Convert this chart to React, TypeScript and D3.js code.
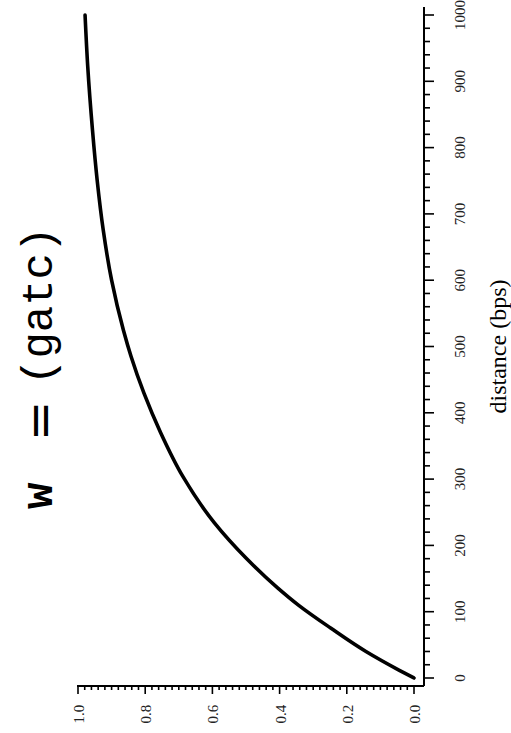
import React, { useRef, useEffect } from "react";
import { select, scaleLinear, line, curveMonotoneY, range } from "d3";

// curve: distance (bps) -> weight
const distance = [0, 12, 40, 75, 110, 136, 181, 234, 304, 370, 430, 485, 525, 600, 676, 751, 827, 922, 1000];
const weight = [0, 0.045, 0.143, 0.247, 0.344, 0.406, 0.5, 0.594, 0.688, 0.754, 0.804, 0.842, 0.865, 0.9, 0.925, 0.943, 0.957, 0.971, 0.979];

const distTicks = [0, 100, 200, 300, 400, 500, 600, 700, 800, 900, 1000];
const distLabels = ["0", "100", "200", "300", "400", "500", "600", "700", "800", "900", "1000"];
const weightTicks = [0, 0.2, 0.4, 0.6, 0.8, 1.0];
const weightLabels = ["0.0", "0.2", "0.4", "0.6", "0.8", "1.0"];
const distMinor = range(0, 1001, 20);
const weightMinor = range(0, 51).map((i) => i / 50);

const W = 511;
const H = 733;
const SERIF = "'Liberation Serif', 'DejaVu Serif', 'Times New Roman', serif";
const MONO = "'Liberation Mono', 'DejaVu Sans Mono', monospace";

function App() {
  const svgRef = useRef<SVGSVGElement>(null);

  useEffect(() => {
    const svg = select(svgRef.current);
    svg.selectAll("*").remove();

    // page is rotated: distance runs bottom->top, weight runs right->left
    const dScale = scaleLinear().domain([0, 1000]).range([678, 15]);
    const wScale = scaleLinear().domain([0, 1]).range([414, 78]);

    const axisX = 424; // right axis line
    const axisY = 686; // bottom axis line

    // frame lines
    svg.append("line")
      .attr("x1", axisX).attr("x2", axisX)
      .attr("y1", axisY).attr("y2", 7)
      .attr("stroke", "black").attr("stroke-width", 2);
    svg.append("line")
      .attr("x1", axisX).attr("x2", wScale(1) - 1)
      .attr("y1", axisY).attr("y2", axisY)
      .attr("stroke", "black").attr("stroke-width", 2);

    // right axis ticks
    svg.append("g")
      .selectAll("line")
      .data(distMinor)
      .join("line")
      .attr("x1", axisX)
      .attr("x2", (d) => (d % 100 === 0 ? axisX + 10 : axisX + 6))
      .attr("y1", (d) => dScale(d))
      .attr("y2", (d) => dScale(d))
      .attr("stroke", "black")
      .attr("stroke-width", 1.6);

    svg.append("g")
      .selectAll("text")
      .data(distTicks)
      .join("text")
      .attr("transform", (d) => `translate(465,${dScale(d)}) rotate(-90)`)
      .attr("text-anchor", "middle")
      .style("font-family", SERIF)
      .style("font-size", "15px")
      .attr("fill", "#222")
      .text((d, i) => distLabels[i]);

    // bottom axis ticks
    svg.append("g")
      .selectAll("line")
      .data(weightMinor)
      .join("line")
      .attr("x1", (d) => wScale(d))
      .attr("x2", (d) => wScale(d))
      .attr("y1", axisY)
      .attr("y2", (d, i) => (i % 10 === 0 ? axisY + 8 : axisY + 4))
      .attr("stroke", "black")
      .attr("stroke-width", 1.6);

    svg.append("g")
      .selectAll("text")
      .data(weightTicks)
      .join("text")
      .attr("transform", (d) => `translate(${wScale(d) + 6},714) rotate(-90)`)
      .attr("text-anchor", "middle")
      .style("font-family", SERIF)
      .style("font-size", "15px")
      .attr("fill", "#222")
      .text((d, i) => weightLabels[i]);

    // axis title
    svg.append("text")
      .attr("transform", `translate(506,${(dScale(0) + dScale(1000)) / 2}) rotate(-90)`)
      .attr("text-anchor", "middle")
      .style("font-family", SERIF)
      .style("font-size", "24px")
      .text("distance (bps)");

    // title w = (gatc)
    svg.append("text")
      .attr("transform", "translate(52,509) rotate(-90)")
      .style("font-family", MONO)
      .style("font-size", "44px")
      .style("font-weight", "bold")
      .text("w");
    svg.append("text")
      .attr("transform", "translate(56,421) rotate(-90)")
      .attr("text-anchor", "middle")
      .style("font-family", "'DejaVu Sans', sans-serif")
      .style("font-size", "48px")
      .text("=");
    svg.append("text")
      .attr("transform", "translate(52,385) rotate(-90)")
      .style("font-family", MONO)
      .style("font-size", "44px")
      .text("(gatc)");

    // curve
    const pts = distance.map((d, i) => [d, weight[i]] as [number, number]);
    const pLine = line<[number, number]>()
      .x((p) => wScale(p[1]))
      .y((p) => dScale(p[0]))
      .curve(curveMonotoneY);
    svg.append("path")
      .datum(pts)
      .attr("d", pLine)
      .attr("fill", "none")
      .attr("stroke", "black")
      .attr("stroke-width", 3.6)
      .attr("stroke-linecap", "round");
  }, []);

  return (
    <div className="App">
      <svg
        ref={svgRef}
        width={W}
        height={H}
        style={{ position: "absolute", left: 0, top: 0, background: "white" }}
      ></svg>
    </div>
  );
}

export default App;
